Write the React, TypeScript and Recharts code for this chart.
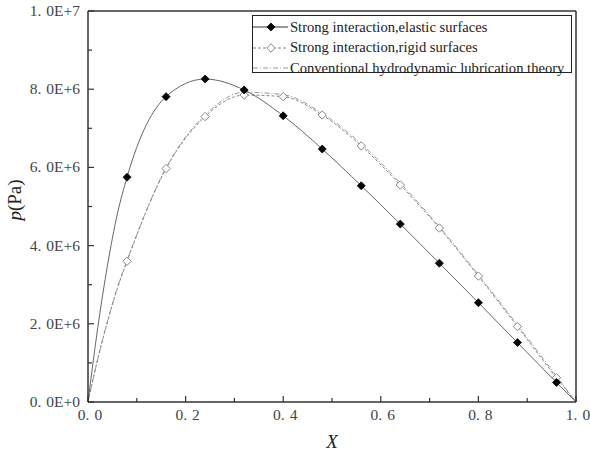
import {
  ComposedChart,
  Line,
  ReferenceLine,
  Scatter,
  XAxis,
  YAxis,
} from "recharts";

const W = 590;
const H = 457;
const PLOT_LEFT = 88;
const PLOT_TOP = 11;
const PLOT_RIGHT = 576;
const X_AXIS_H = 55;
const PLOT_BOTTOM = H - X_AXIS_H;

// sampled positions where markers are drawn
const MARK_X = [0.08, 0.16, 0.24, 0.32, 0.4, 0.48, 0.56, 0.64, 0.72, 0.8, 0.88, 0.96];
const ELASTIC_P = [5.75e6, 7.81e6, 8.26e6, 7.98e6, 7.32e6, 6.47e6, 5.53e6, 4.55e6, 3.55e6, 2.54e6, 1.52e6, 0.5e6];
const RIGID_P = [3.6e6, 5.97e6, 7.3e6, 7.85e6, 7.81e6, 7.34e6, 6.55e6, 5.55e6, 4.45e6, 3.22e6, 1.93e6, 0.62e6];
const CONV_P = [3.62e6, 5.99e6, 7.34e6, 7.92e6, 7.86e6, 7.38e6, 6.6e6, 5.6e6, 4.48e6, 3.25e6, 1.97e6, 0.66e6];

// extra curve points near the inlet, where pressure climbs steeply
const LEAD_X = [0, 0.02, 0.04, 0.06];
const ELASTIC_LEAD = [0, 1.9e6, 3.5e6, 4.8e6];
const RIGID_LEAD = [0, 1.1e6, 2.05e6, 2.9e6];
const CONV_LEAD = [0, 1.1e6, 2.07e6, 2.92e6];

const X_TICKS = [0, 0.1, 0.2, 0.3, 0.4, 0.5, 0.6, 0.7, 0.8, 0.9, 1];
const Y_TICKS = [0, 1e6, 2e6, 3e6, 4e6, 5e6, 6e6, 7e6, 8e6, 9e6, 1e7];

const LEGEND = [
  "Strong interaction,elastic surfaces",
  "Strong interaction,rigid surfaces",
  "Conventional hydrodynamic lubrication theory",
];

const AXIS = "#333";
const SERIF = "'Liberation Serif', 'Times New Roman', serif";

const curve = (lead: number[], vals: number[]) => [
  ...LEAD_X.map((x, i) => ({ x, p: lead[i] })),
  ...MARK_X.map((x, i) => ({ x, p: vals[i] })),
  { x: 1, p: 0 },
];
const marks = (vals: number[]) => MARK_X.map((x, i) => ({ x, p: vals[i] }));

const elasticCurve = curve(ELASTIC_LEAD, ELASTIC_P);
const rigidCurve = curve(RIGID_LEAD, RIGID_P);
const convCurve = curve(CONV_LEAD, CONV_P);

const fmtX = (v: number) => v.toFixed(1);
const fmtY = (v: number) => {
  if (v === 0) return "0.0E+0";
  const e = Math.floor(Math.log10(v) + 1e-9);
  return `${(v / 10 ** e).toFixed(1)}E+${e}`;
};

// tick text with the wide gap after the decimal point
function TickText({ x, y, anchor, label }: { x: number; y: number; anchor: string; label: string }) {
  const dot = label.indexOf(".");
  return (
    <text x={x} y={y} textAnchor={anchor} fontFamily={SERIF} fontSize={15.5} fill="#444">
      {label.slice(0, dot + 1)}
      <tspan dx={5}>{label.slice(dot + 1)}</tspan>
    </text>
  );
}

function XTick(props: any) {
  const { x, payload } = props;
  const v = payload.value as number;
  const major = Math.round(v * 10) % 2 === 0;
  return (
    <g>
      <line x1={x} x2={x} y1={PLOT_BOTTOM} y2={PLOT_BOTTOM - (major ? 6 : 4)} stroke={AXIS} strokeWidth={1.2} />
      {major ? <TickText x={x + 2} y={PLOT_BOTTOM + 18} anchor="middle" label={fmtX(v)} /> : null}
    </g>
  );
}

function YTick(props: any) {
  const { y, payload } = props;
  const v = payload.value as number;
  const major = Math.round(v / 1e6) % 2 === 0;
  return (
    <g>
      <line x1={PLOT_LEFT} x2={PLOT_LEFT + (major ? 6 : 4)} y1={y} y2={y} stroke={AXIS} strokeWidth={1.2} />
      {major ? <TickText x={PLOT_LEFT - 8} y={y + 5} anchor="end" label={fmtY(v)} /> : null}
    </g>
  );
}

function Diamond({ cx, cy, filled }: { cx: number; cy: number; filled: boolean }) {
  const r = filled ? 4 : 4.2;
  return (
    <path
      d={`M${cx},${cy - r}L${cx + r},${cy}L${cx},${cy + r}L${cx - r},${cy}Z`}
      fill={filled ? "#000" : "#fff"}
      stroke={filled ? "#000" : "#888"}
      strokeWidth={filled ? 0.8 : 1}
    />
  );
}

function LegendBox() {
  const samples = [
    { dash: undefined, stroke: "#333", marker: "filled" },
    { dash: "3 2", stroke: "#888", marker: "open" },
    { dash: "5 2 1 2", stroke: "#999", marker: null },
  ];
  return (
    <div
      style={{
        position: "absolute",
        left: 252,
        top: 15,
        width: 320,
        height: 58,
        boxSizing: "border-box",
        border: "1.5px solid #222",
        background: "#fff",
        paddingTop: 1,
      }}
    >
      {LEGEND.map((label, i) => {
        const s = samples[i];
        return (
          <div key={label} style={{ display: "flex", alignItems: "center", height: 20.5 }}>
            <svg width={37} height={12} style={{ flex: "none" }}>
              <line x1={0} x2={35} y1={6} y2={6} stroke={s.stroke} strokeWidth={1} strokeDasharray={s.dash} />
              {s.marker ? <Diamond cx={18} cy={6} filled={s.marker === "filled"} /> : null}
            </svg>
            <span style={{ fontFamily: SERIF, fontSize: 14.6, color: "#222", whiteSpace: "nowrap" }}>{label}</span>
          </div>
        );
      })}
    </div>
  );
}

export default function App() {
  return (
    <div style={{ position: "absolute", left: 0, top: 0, width: W, height: H, background: "#fff" }}>
      <ComposedChart
        width={W}
        height={H}
        margin={{ top: PLOT_TOP, right: W - PLOT_RIGHT, bottom: 0, left: 0 }}
      >
        <XAxis
          type="number"
          dataKey="x"
          domain={[0, 1]}
          ticks={X_TICKS}
          interval={0}
          height={X_AXIS_H}
          tickLine={false}
          axisLine={{ stroke: AXIS, strokeWidth: 1.5 }}
          tick={<XTick />}
          allowDuplicatedCategory={false}
        />
        <YAxis
          type="number"
          domain={[0, 1e7]}
          ticks={Y_TICKS}
          interval={0}
          width={PLOT_LEFT}
          tickLine={false}
          axisLine={{ stroke: AXIS, strokeWidth: 1.5 }}
          tick={<YTick />}
        />
        <ReferenceLine y={1e7} stroke={AXIS} strokeWidth={1.5} />
        <ReferenceLine x={1} stroke={AXIS} strokeWidth={1.5} />
        <Line
          data={convCurve}
          dataKey="p"
          type="monotone"
          stroke="#999"
          strokeWidth={1}
          strokeDasharray="5 2 1 2"
          dot={false}
          isAnimationActive={false}
        />
        <Line
          data={rigidCurve}
          dataKey="p"
          type="monotone"
          stroke="#888"
          strokeWidth={1}
          strokeDasharray="3 2"
          dot={false}
          isAnimationActive={false}
        />
        <Line
          data={elasticCurve}
          dataKey="p"
          type="monotone"
          stroke="#666"
          strokeWidth={1}
          dot={false}
          isAnimationActive={false}
        />
        <Scatter
          data={marks(RIGID_P)}
          dataKey="p"
          isAnimationActive={false}
          shape={(p: any) => <Diamond cx={p.cx} cy={p.cy} filled={false} />}
        />
        <Scatter
          data={marks(ELASTIC_P)}
          dataKey="p"
          isAnimationActive={false}
          shape={(p: any) => <Diamond cx={p.cx} cy={p.cy} filled />}
        />
      </ComposedChart>
      <div
        style={{
          position: "absolute",
          left: 15,
          top: 200,
          transform: "translate(-50%, -50%) rotate(-90deg)",
          fontFamily: SERIF,
          fontSize: 19,
          color: "#222",
          whiteSpace: "nowrap",
        }}
      >
        <i>p</i>(Pa)
      </div>
      <div
        style={{
          position: "absolute",
          left: 332,
          top: 442,
          transform: "translate(-50%, -50%)",
          fontFamily: SERIF,
          fontSize: 19,
          fontStyle: "italic",
          color: "#222",
        }}
      >
        X
      </div>
      <LegendBox />
    </div>
  );
}
